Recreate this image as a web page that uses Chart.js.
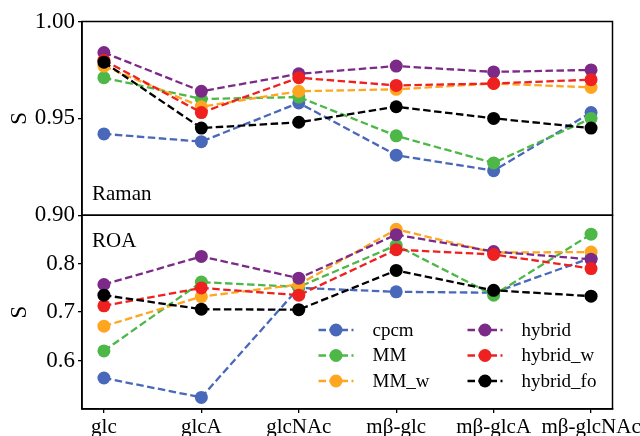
<!DOCTYPE html>
<html>
<head>
<meta charset="utf-8">
<script src="https://cdn.jsdelivr.net/npm/chart.js@4/dist/chart.umd.min.js"></script>
<style>
  html, body { margin: 0; padding: 0; background: #fff; }
  #wrap { width: 640px; height: 436px; position: relative; }
</style>
</head>
<body>
<div id="wrap"><canvas id="c" width="640" height="436"></canvas></div>
<script>
// ---- data ----
const categories = ['glc', 'glcA', 'glcNAc', 'mβ-glc', 'mβ-glcA', 'mβ-glcNAc'];
const seriesNames = ['cpcm', 'MM', 'MM_w', 'hybrid', 'hybrid_w', 'hybrid_fo'];
const seriesColors = ['#4a68ba', '#4db848', '#ffa620', '#7b2a87', '#ee2020', '#000000'];

// Raman panel
const ramanCpcm     = [0.942, 0.938, 0.958, 0.931, 0.923, 0.953];
const ramanMM       = [0.971, 0.960, 0.961, 0.941, 0.927, 0.950];
const ramanMMw      = [0.977, 0.956, 0.964, 0.965, 0.968, 0.966];
const ramanHybrid   = [0.984, 0.964, 0.973, 0.977, 0.974, 0.975];
const ramanHybridW  = [0.980, 0.953, 0.971, 0.967, 0.968, 0.970];
const ramanHybridFo = [0.979, 0.945, 0.948, 0.956, 0.950, 0.945];

// ROA panel
const roaCpcm     = [0.564, 0.524, 0.750, 0.742, 0.740, 0.812];
const roaMM       = [0.620, 0.762, 0.752, 0.838, 0.735, 0.861];
const roaMMw      = [0.671, 0.732, 0.757, 0.871, 0.823, 0.824];
const roaHybrid   = [0.757, 0.815, 0.770, 0.860, 0.825, 0.809];
const roaHybridW  = [0.713, 0.750, 0.735, 0.829, 0.819, 0.790];
const roaHybridFo = [0.735, 0.706, 0.705, 0.786, 0.745, 0.733];

const ramanTicks = [0.90, 0.95, 1.00];
const roaTicks = [0.6, 0.7, 0.8];
const panelNames = ['Raman', 'ROA'];

const ramanSeries = [ramanCpcm, ramanMM, ramanMMw, ramanHybrid, ramanHybridW, ramanHybridFo];
const roaSeries = [roaCpcm, roaMM, roaMMw, roaHybrid, roaHybridW, roaHybridFo];

// ---- styling ----
const FONT = 'Liberation Serif';
const DASH = [7.5, 3.5];

function makeDatasets(series, axisId, showInLegend) {
  return series.map((vals, i) => ({
    label: seriesNames[i],
    data: vals.map((v, k) => ({ x: k, y: v })),
    yAxisID: axisId,
    borderColor: seriesColors[i],
    backgroundColor: seriesColors[i],
    pointBackgroundColor: seriesColors[i],
    pointBorderColor: seriesColors[i],
    pointRadius: 6.5,
    pointBorderWidth: 0,
    pointHoverRadius: 6.5,
    borderWidth: 2.3,
    borderDash: DASH,
    tension: 0,
    fill: false,
    order: 5 - i,
    inLegend: showInLegend
  }));
}

const datasets = [
  ...makeDatasets(ramanSeries, 'yRaman', true),
  ...makeDatasets(roaSeries, 'yROA', false)
];

const framePlugin = {
  id: 'frameAndLegend',
  afterDatasetsDraw(chart) {
    const ctx = chart.ctx;
    const a = chart.chartArea;
    const yR = chart.scales.yRaman;
    const yO = chart.scales.yROA;
    ctx.save();
    // frames
    ctx.strokeStyle = '#000';
    ctx.lineWidth = 1.5;
    ctx.setLineDash([]);
    ctx.strokeRect(a.left, yR.top, a.right - a.left, yR.bottom - yR.top);
    ctx.strokeRect(a.left, yO.top, a.right - a.left, yO.bottom - yO.top);
    // panel names
    ctx.fillStyle = '#000';
    ctx.font = '21px "' + FONT + '"';
    ctx.textAlign = 'left';
    ctx.textBaseline = 'alphabetic';
    ctx.fillText(panelNames[0], a.left + 10, yR.bottom - 15);
    ctx.fillText(panelNames[1], a.left + 10, yO.top + 32);
    // legend (2 columns x 3 rows) in lower right of ROA panel
    ctx.font = '19px "' + FONT + '"';
    ctx.textBaseline = 'middle';
    const legendSets = chart.data.datasets.filter(d => d.inLegend);
    const colX = [a.right - 294, a.right - 145];
    const rowY0 = yO.bottom - 79;
    const rowStep = 25.5;
    legendSets.forEach((d, i) => {
      const col = Math.floor(i / 3);
      const row = i % 3;
      const x0 = colX[col];
      const y = rowY0 + row * rowStep;
      ctx.strokeStyle = d.borderColor;
      ctx.lineWidth = d.borderWidth;
      ctx.setLineDash(DASH);
      ctx.lineDashOffset = 0;
      ctx.beginPath();
      ctx.moveTo(x0, y);
      ctx.lineTo(x0 + 35, y);
      ctx.stroke();
      ctx.setLineDash([]);
      ctx.fillStyle = d.borderColor;
      ctx.beginPath();
      ctx.arc(x0 + 17.5, y, 6.5, 0, Math.PI * 2);
      ctx.fill();
      ctx.fillStyle = '#000';
      ctx.fillText(d.label, x0 + 54, y + 1);
    });
    ctx.restore();
  }
};

const yCommon = (ticksArr, decimals) => ({
  type: 'linear',
  position: 'left',
  stack: 'panels',
  stackWeight: 1,
  afterBuildTicks: s => { s.ticks = ticksArr.map(v => ({ value: v })); },
  afterFit: s => { s.width = 82; s.paddingTop = 0; s.paddingBottom = 0; },
  ticks: {
    color: '#000',
    font: { family: FONT, size: 23 },
    padding: 3,
    callback: v => Number(v).toFixed(decimals)
  },
  grid: { display: true, drawOnChartArea: false, drawTicks: true, tickLength: 4, color: '#000', lineWidth: 1.3 },
  border: { display: true, color: '#000', width: 1.5 },
  title: { display: true, text: 'S', color: '#000', font: { family: FONT, size: 23 }, padding: { top: 6, bottom: 0 } }
});

new Chart(document.getElementById('c'), {
  type: 'line',
  data: { datasets },
  plugins: [framePlugin],
  options: {
    responsive: false,
    animation: false,
    devicePixelRatio: 1,
    layout: { padding: { top: 21.5, right: 27.5, left: 0, bottom: 0 } },
    plugins: { legend: { display: false }, tooltip: { enabled: false } },
    scales: {
      x: {
        type: 'linear',
        min: -0.225,
        max: 5.22,
        afterBuildTicks: s => { s.ticks = categories.map((_, i) => ({ value: i })); },
        afterFit: s => { s.height = 27; s.paddingLeft = 0; s.paddingRight = 0; },
        ticks: {
          color: '#000',
          font: { family: FONT, size: 21 },
          padding: 2,
          maxRotation: 0,
          autoSkip: false,
          callback: v => categories[v]
        },
        grid: { display: true, drawOnChartArea: false, drawTicks: true, tickLength: 4, color: '#000', lineWidth: 1.3 },
        border: { display: true, color: '#000', width: 1.5 }
      },
      // the last-defined stacked axis is placed on top
      yROA: Object.assign(yCommon(roaTicks, 1), { min: 0.5, max: 0.9 }),
      yRaman: Object.assign(yCommon(ramanTicks, 2), { min: 0.90, max: 1.00 })
    }
  }
});
</script>
</body>
</html>
